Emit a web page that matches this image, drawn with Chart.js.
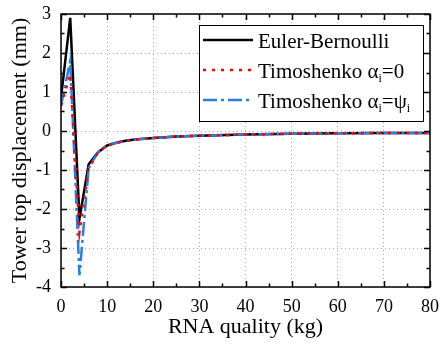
<!DOCTYPE html>
<html>
<head>
<meta charset="utf-8">
<script src="https://cdn.jsdelivr.net/npm/chart.js@4.4.1/dist/chart.umd.min.js"></script>
<style>
  html, body { margin: 0; padding: 0; background: #fff; }
  #wrap { width: 442px; height: 345px; position: relative; }
</style>
</head>
<body>
<div id="wrap"><canvas id="chart"></canvas></div>
<script>
// RNA quality (kg) sample points
const mass = [0, 2, 4, 6, 8, 10, 12, 14, 16, 18, 20, 25, 30, 40, 50, 60, 70, 80];

// tower top displacement (mm)
const eulerBernoulli = [0.85, 2.9, -2.25, -0.85, -0.55, -0.37, -0.3, -0.25, -0.22, -0.2, -0.18, -0.14, -0.12, -0.09, -0.07, -0.06, -0.05, -0.05];
const timoAlpha0 = [0.65, 1.45, -2.6, -0.95, -0.55, -0.37, -0.3, -0.25, -0.22, -0.2, -0.18, -0.14, -0.12, -0.09, -0.07, -0.06, -0.05, -0.05];
const timoAlphaPsi = [0.65, 1.8, -3.7, -0.95, -0.55, -0.37, -0.3, -0.25, -0.22, -0.2, -0.18, -0.14, -0.12, -0.09, -0.07, -0.06, -0.05, -0.05];

const xTicks = [0, 10, 20, 30, 40, 50, 60, 70, 80];
const yTicks = [-4, -3, -2, -1, 0, 1, 2, 3];

const FONT = "'Liberation Serif', 'Times New Roman', serif";

function pts(ys) {
  return mass.map((x, i) => ({ x: x, y: ys[i] }));
}

// frame with inward ticks on all four sides
const framePlugin = {
  id: "frame",
  afterDatasetsDraw(chart) {
    const { ctx, chartArea: a, scales } = chart;
    const xs = scales.x, ys = scales.y;
    ctx.save();
    ctx.strokeStyle = "#000";
    ctx.lineWidth = 1.5;
    ctx.beginPath();
    for (let v = 0; v <= 80; v += 5) {
      const px = Math.round(xs.getPixelForValue(v)) + 0.5;
      const len = v % 10 === 0 ? 6 : 3.5;
      ctx.moveTo(px, a.bottom); ctx.lineTo(px, a.bottom - len);
      ctx.moveTo(px, a.top); ctx.lineTo(px, a.top + len);
    }
    for (let v = -4; v <= 3; v += 0.5) {
      const py = Math.round(ys.getPixelForValue(v)) + 0.5;
      const len = Number.isInteger(v) ? 6 : 3.5;
      ctx.moveTo(a.left, py); ctx.lineTo(a.left + len, py);
      ctx.moveTo(a.right, py); ctx.lineTo(a.right - len, py);
    }
    ctx.stroke();
    ctx.strokeRect(a.left, a.top, a.right - a.left, a.bottom - a.top);
    ctx.restore();
  }
};

// legend box in the top right, with subscripts
const legendPlugin = {
  id: "boxLegend",
  afterDraw(chart) {
    const ctx = chart.ctx;
    const bx = 199, by = 25, bw = 224, bh = 96;
    ctx.save();
    ctx.fillStyle = "#fff";
    ctx.fillRect(bx, by, bw, bh);
    ctx.strokeStyle = "#000";
    ctx.lineWidth = 1;
    ctx.strokeRect(bx + 0.5, by + 0.5, bw, bh);

    const ds = chart.data.datasets;
    const rows = [
      { ds: ds[0], parts: [["Euler-Bernoulli", 0]] },
      { ds: ds[1], parts: [["Timoshenko \u03b1", 0], ["i", 1], ["=0", 0]] },
      { ds: ds[2], parts: [["Timoshenko \u03b1", 0], ["i", 1], ["=\u03c8", 0], ["i", 1]] }
    ];
    rows.forEach((r, k) => {
      const cy = by + 15 + k * 30;
      ctx.strokeStyle = r.ds.borderColor;
      ctx.lineWidth = r.ds.borderWidth;
      ctx.setLineDash(r.ds.borderDash || []);
      ctx.beginPath();
      ctx.moveTo(203, cy); ctx.lineTo(253, cy);
      ctx.stroke();
      ctx.setLineDash([]);
      let tx = 258;
      ctx.fillStyle = "#000";
      ctx.textBaseline = "alphabetic";
      r.parts.forEach(([t, sub]) => {
        ctx.font = (sub ? "12px " : "21px ") + FONT;
        ctx.fillText(t, tx, cy + (sub ? 12 : 8));
        tx += ctx.measureText(t).width;
      });
    });
    ctx.restore();
  }
};

new Chart(document.getElementById("chart"), {
  type: "line",
  data: {
    datasets: [
      { label: "Euler-Bernoulli", data: pts(eulerBernoulli), borderColor: "#000", borderWidth: 2.5, pointRadius: 0, fill: false, tension: 0, order: 3 },
      { label: "Timoshenko \u03b1i=0", data: pts(timoAlpha0), borderColor: "#ff0000", borderWidth: 2.5, borderDash: [3, 6], pointRadius: 0, fill: false, tension: 0, order: 1 },
      { label: "Timoshenko \u03b1i=\u03c8i", data: pts(timoAlphaPsi), borderColor: "#2a7de1", borderWidth: 2.5, borderDash: [14, 4, 3, 4], pointRadius: 0, fill: false, tension: 0, order: 2 }
    ]
  },
  options: {
    responsive: true,
    maintainAspectRatio: false,
    animation: false,
    layout: { padding: { left: 0, top: 14, right: 12, bottom: 0 } },
    plugins: { legend: { display: false }, tooltip: { enabled: false } },
    scales: {
      x: {
        type: "linear",
        min: 0, max: 80,
        afterBuildTicks: (s) => { s.ticks = xTicks.map(v => ({ value: v })); },
        afterFit: (s) => { s.height = 58; s.paddingLeft = 0; s.paddingRight = 0; },
        grid: { color: "#aaa", lineWidth: 1, drawTicks: false },
        border: { display: false, dash: [1, 3] },
        ticks: { color: "#000", font: { family: FONT, size: 18 }, padding: 9, maxRotation: 0 },
        title: { display: true, text: "RNA quality (kg)", color: "#000", font: { family: FONT, size: 22 }, padding: { top: 0, bottom: 5 } }
      },
      y: {
        type: "linear",
        min: -4, max: 3,
        afterBuildTicks: (s) => { s.ticks = yTicks.map(v => ({ value: v })); },
        afterFit: (s) => { s.width = 61; s.paddingTop = 0; s.paddingBottom = 0; },
        grid: { color: "#aaa", lineWidth: 1, drawTicks: false },
        border: { display: false, dash: [1, 3] },
        ticks: { color: "#000", font: { family: FONT, size: 18 }, padding: 10 },
        title: { display: true, text: "Tower top displacement (mm)", color: "#000", font: { family: FONT, size: 22 }, padding: { top: 7, bottom: 0 } }
      }
    }
  },
  plugins: [framePlugin, legendPlugin]
});
</script>
</body>
</html>
